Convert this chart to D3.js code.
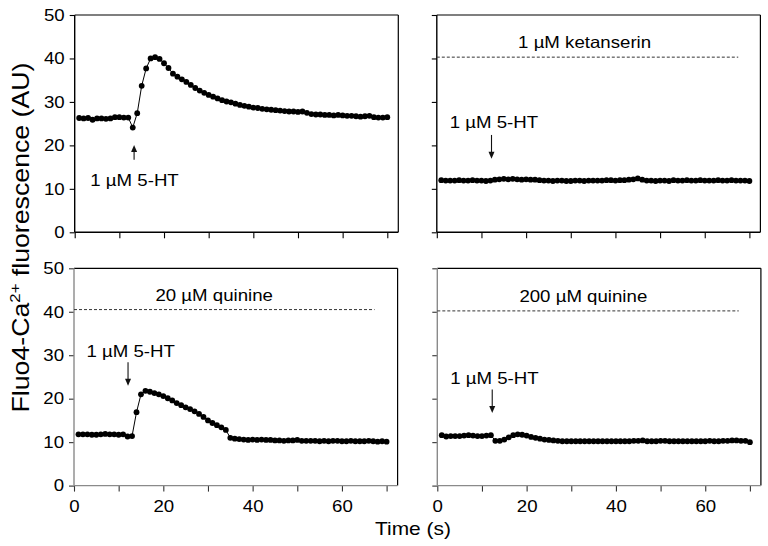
<!DOCTYPE html>
<html><head><meta charset="utf-8">
<script src="https://cdn.jsdelivr.net/npm/d3@7"></script>
<style>body{margin:0;background:#fff}svg{display:block;font-family:"Liberation Sans",Arial,sans-serif}</style>
</head><body><svg id="c" width="768" height="546"></svg>
<script>
// ---- data ----
const time = [1,2,3,4,5,6,7,8,9,10,11,12,13,14,15,16,17,18,19,20,21,22,23,24,25,26,27,28,29,30,31,32,33,34,35,36,37,38,39,40,41,42,43,44,45,46,47,48,49,50,51,52,53,54,55,56,57,58,59,60,61,62,63,64,65,66,67,68,69,70];
const control = [26.3,26.2,26.3,25.9,26.2,26.2,26.1,26.2,26.5,26.5,26.4,26.4,24.1,27.4,33.7,37.7,40.0,40.3,39.9,38.9,37.8,36.5,35.8,35.2,34.6,33.9,33.2,32.6,32.1,31.6,31.2,30.8,30.4,30.1,29.9,29.6,29.3,29.1,28.9,28.7,28.6,28.4,28.3,28.2,28.1,28.0,27.9,27.8,27.8,27.7,27.8,27.5,27.2,27.1,27.1,27.0,27.0,26.9,27.0,26.9,26.8,26.8,26.7,26.6,26.7,26.8,26.5,26.4,26.4,26.5];
const ketanserin = [12.0,11.9,11.9,11.9,12.0,11.9,11.9,12.0,11.9,11.9,11.8,11.9,12.1,12.2,12.3,12.2,12.3,12.2,12.1,12.2,12.1,12.1,12.0,11.9,11.9,11.8,11.9,11.9,11.8,11.8,11.9,11.9,11.8,11.9,11.9,11.9,11.9,12.0,12.0,11.9,12.0,12.0,12.1,12.2,12.4,12.1,11.9,11.9,11.8,11.9,11.9,11.8,12.0,11.9,11.9,12.0,11.9,11.9,12.0,11.9,11.9,11.9,12.0,11.9,11.9,12.0,11.9,11.9,11.9,11.8];
const quinine20 = [11.8,11.8,11.8,11.7,11.7,11.8,11.9,11.8,11.8,11.7,11.8,11.3,11.4,16.9,21.0,21.8,21.6,21.3,21.0,20.6,20.1,19.6,19.0,18.5,18.0,17.6,17.1,16.5,15.8,15.0,14.4,13.9,13.4,12.8,11.0,10.8,10.7,10.6,10.5,10.6,10.5,10.6,10.5,10.5,10.4,10.4,10.3,10.4,10.4,10.5,10.3,10.3,10.3,10.3,10.2,10.3,10.2,10.3,10.3,10.2,10.2,10.3,10.2,10.2,10.2,10.3,10.2,10.1,10.2,10.1];
const quinine200 = [11.6,11.3,11.4,11.4,11.4,11.5,11.6,11.5,11.4,11.4,11.5,11.6,10.3,10.3,10.6,11.1,11.6,11.8,11.7,11.5,11.2,11.0,10.8,10.6,10.5,10.4,10.3,10.2,10.2,10.2,10.2,10.2,10.2,10.2,10.2,10.2,10.2,10.2,10.2,10.2,10.2,10.2,10.2,10.3,10.3,10.4,10.2,10.2,10.2,10.3,10.3,10.2,10.2,10.2,10.2,10.2,10.2,10.2,10.2,10.2,10.3,10.2,10.2,10.3,10.3,10.4,10.4,10.3,10.3,10.0];
const yTicks = [0,10,20,30,40,50];
const xTicks = [0,10,20,30,40,50,60,70];
const xLabelTicks = [0,20,40,60];
const stimLabel = "1 µM 5-HT";
const drugLabels = [null, "1 µM ketanserin", "20 µM quinine", "200 µM quinine"];
const drugLevel = [null, 40.3, 40.5, 40.2];
const drugEnd = [null, 67.5, 67.3, 67.5];
const yTitle = ["Fluo4-Ca", "2+", " fluorescence (AU)"];
const xTitle = "Time (s)";

// ---- layout ----
const svg = d3.select("#c");
const PW = 312.6, PH = 217.3, FW = 323.6;
const STRETCH = 1.13;
function stretch(sel, f){ sel.each(function(){ const l=this.getComputedTextLength(); d3.select(this).attr("textLength", l*f).attr("lengthAdjust","spacingAndGlyphs"); }); }

const panels = [
  {x0:74.7, y0:15,    data:control,    axisCol:"#000", tickCol:"#000", yLab:true,  xLab:false,
   stim:{tx:13.4, ty:10.7, ax:13.3, a1:16.7, a2:20.1}},
  {x0:436.8, y0:15,   data:ketanserin, axisCol:"#000", tickCol:"#000", yLab:false, xLab:false,
   stim:{tx:12.8, ty:24.0, ax:12.25, a1:22.4, a2:16.9}, drug:{i:1, tx:33.1, ty:42.4}},
  {x0:74.0, y0:268.3, data:quinine20,  axisCol:"#8a8a8a", tickCol:"#333", yLab:true,  xLab:true,
   stim:{tx:12.7, ty:29.6, ax:12.1, a1:28.4, a2:23.0}, drug:{i:2, tx:31.4, ty:42.4}},
  {x0:437.3, y0:268.3, data:quinine200, axisCol:"#8a8a8a", tickCol:"#333", yLab:false, xLab:true,
   stim:{tx:12.8, ty:23.4, ax:12.3, a1:22.1, a2:16.7}, drug:{i:3, tx:32.7, ty:42.2}}
];

panels.forEach(p => {
  const g = svg.append("g").attr("transform", `translate(${p.x0},${p.y0})`);
  const x = d3.scaleLinear().domain([0,70]).range([0,PW]);
  const y = d3.scaleLinear().domain([0,50]).range([PH,0]);

  // frame: top & right black
  g.append("line").attr("x1",0).attr("x2",FW).attr("y1",0).attr("y2",0).attr("stroke","#000").attr("stroke-width",1.2);
  g.append("line").attr("x1",FW).attr("x2",FW).attr("y1",0).attr("y2",PH).attr("stroke","#000").attr("stroke-width",1.2);

  // axes
  const ay = g.append("g").call(d3.axisLeft(y).tickValues(yTicks).tickSize(5).tickSizeOuter(0).tickPadding(5)
      .tickFormat(p.yLab ? d3.format("d") : ""));
  const ax = g.append("g").attr("transform",`translate(0,${PH})`).call(d3.axisBottom(x).tickValues(xTicks).tickSize(6).tickSizeOuter(0).tickPadding(9)
      .tickFormat(d => (p.xLab && xLabelTicks.includes(d)) ? d : ""));
  [ay,ax].forEach(a => {
    a.select(".domain").remove();
    a.selectAll("line").attr("stroke",p.tickCol).attr("stroke-width",1.1);
    a.selectAll("text").attr("font-size",16.5).attr("fill","#000").attr("font-family","Liberation Sans, Arial, sans-serif");
  });
  stretch(ay.selectAll("text").filter(function(){return this.textContent!=="";}), STRETCH);
  stretch(ax.selectAll("text").filter(function(){return this.textContent!=="";}), STRETCH);
  g.append("line").attr("x1",0).attr("x2",FW).attr("y1",PH).attr("y2",PH).attr("stroke",p.axisCol).attr("stroke-width",1.4);
  g.append("line").attr("x1",0).attr("x2",0).attr("y1",0).attr("y2",PH).attr("stroke",p.axisCol).attr("stroke-width",1.4);

  // drug bar
  if (p.drug) {
    const i = p.drug.i;
    g.append("line").attr("x1",x(0)).attr("x2",x(drugEnd[i])).attr("y1",y(drugLevel[i])).attr("y2",y(drugLevel[i]))
      .attr("stroke","#333").attr("stroke-width",1).attr("stroke-dasharray","3,2");
    const t = g.append("text").attr("x",x(p.drug.tx)).attr("y",y(p.drug.ty)).attr("text-anchor","middle")
      .attr("font-size",16.5).attr("fill","#000").text(drugLabels[i]);
    stretch(t, STRETCH);
  }

  // stimulus annotation
  const s = p.stim;
  const st = g.append("text").attr("x",x(s.tx)).attr("y",y(s.ty)).attr("text-anchor","middle")
    .attr("font-size",16.5).attr("fill","#000").text(stimLabel);
  stretch(st, STRETCH);
  const xa = x(s.ax), y1 = y(s.a1), y2 = y(s.a2);
  const dir = y2 > y1 ? 1 : -1;
  g.append("line").attr("x1",xa).attr("x2",xa).attr("y1",y1).attr("y2",y2 - dir*5).attr("stroke","#111").attr("stroke-width",1.1);
  g.append("path").attr("d",`M${xa},${y2} L${xa-3},${y2-dir*7} L${xa+3},${y2-dir*7} Z`).attr("fill","#111");

  // trace
  const pts = time.map((t,k)=>[t,p.data[k]]);
  g.append("path").attr("d", d3.line().x(d=>x(d[0])).y(d=>y(d[1]))(pts)).attr("fill","none").attr("stroke","#000").attr("stroke-width",1);
  g.selectAll("circle").data(pts).join("circle").attr("cx",d=>x(d[0])).attr("cy",d=>y(d[1])).attr("r",2.9).attr("fill","#000");
});

// axis titles
const yt = svg.append("text").attr("transform","translate(29,237.5) rotate(-90)").attr("text-anchor","middle")
  .attr("font-size",24).attr("fill","#000");
yt.append("tspan").text(yTitle[0]);
yt.append("tspan").attr("font-size",15).attr("dy",-9).text(yTitle[1]);
yt.append("tspan").attr("dy",9).text(yTitle[2]);
yt.attr("textLength",350).attr("lengthAdjust","spacingAndGlyphs");

const xt = svg.append("text").attr("x",413).attr("y",535).attr("text-anchor","middle").attr("font-size",18.5).attr("fill","#000").text(xTitle);
stretch(xt, STRETCH);
</script></body></html>
